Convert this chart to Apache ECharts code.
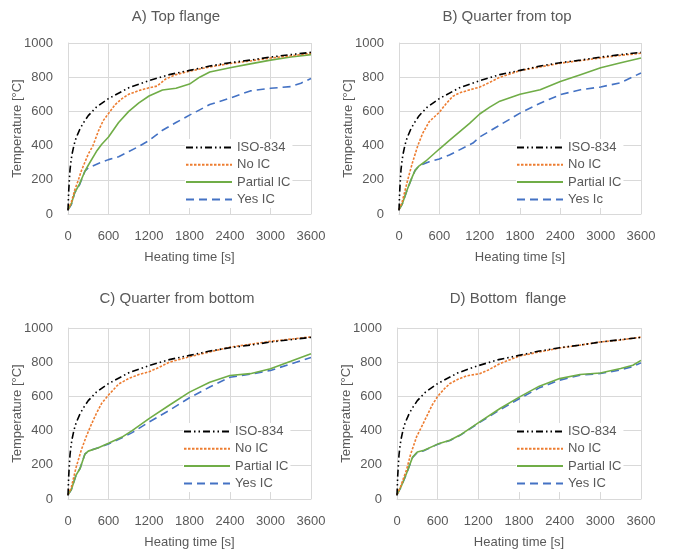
<!DOCTYPE html>
<html><head><meta charset="utf-8">
<script src="https://cdn.jsdelivr.net/npm/echarts@6/dist/echarts.min.js"></script>
<style>html,body{margin:0;padding:0;background:#fff}#c{width:675px;height:555px}</style>
</head><body><div id="c"></div>
<script>
var panelTitles = ['A) Top flange', 'B) Quarter from top', 'C) Quarter from bottom', 'D) Bottom  flange'];
var seriesNames = [
  ['ISO-834', 'No IC', 'Partial IC', 'Yes IC'],
  ['ISO-834', 'No IC', 'Partial IC', 'Yes Ic'],
  ['ISO-834', 'No IC', 'Partial IC', 'Yes IC'],
  ['ISO-834', 'No IC', 'Partial IC', 'Yes IC']
];
var xTicks = [0, 600, 1200, 1800, 2400, 3000, 3600];
var yTicks = [0, 200, 400, 600, 800, 1000];

var isoData = [[0,20],[10,130],[20,200],[30,260],[45,310],[60,350],[90,405],[120,445],[180,500],[240,540],[300,575],[420,625],[600,675],[900,738],[1200,780],[1500,815],[1800,840],[2100,865],[2400,885],[2700,900],[3000,918],[3300,932],[3600,945]];

var aNo = [[0,25],[50,70],[100,140],[150,195],[200,255],[300,350],[370,400],[450,485],[520,545],[600,588],[700,640],[800,675],[900,700],[1050,722],[1200,738],[1320,748],[1450,790],[1600,815],[1800,835],[2100,860],[2400,880],[2700,895],[3000,912],[3300,925],[3600,940]];
var aPartial = [[0,25],[50,60],[100,125],[170,175],[250,250],[300,285],[420,365],[500,408],[600,450],[750,535],[900,600],[1050,650],[1200,690],[1400,725],[1600,735],[1800,760],[1950,800],[2100,830],[2400,855],[2700,878],[3000,900],[3300,918],[3600,932]];
var aYes = [[0,25],[50,55],[100,125],[170,170],[250,250],[300,270],[450,295],[600,318],[750,335],[900,365],[1050,395],[1200,430],[1400,490],[1600,535],[1800,578],[2100,640],[2400,678],[2700,720],[3000,735],[3300,745],[3450,765],[3600,792]];

var bNo = [[0,25],[50,75],[130,200],[200,300],[280,400],[350,470],[450,540],[600,595],[700,645],[800,688],[900,708],[1050,726],[1200,742],[1350,770],[1500,800],[1800,838],[2100,860],[2400,882],[2700,897],[3000,913],[3300,928],[3600,940]];
var bPartial = [[0,25],[50,60],[120,140],[200,220],[240,255],[300,282],[400,310],[500,345],[600,380],[750,430],[900,480],[1050,530],[1200,585],[1350,625],[1500,660],[1650,680],[1800,700],[2100,727],[2400,775],[2700,815],[3000,855],[3300,885],[3600,912]];
var bYes = [[0,25],[50,60],[120,140],[200,220],[240,255],[300,282],[450,305],[600,322],[750,345],[900,375],[1100,415],[1200,450],[1500,520],[1800,590],[2100,648],[2400,698],[2700,727],[3000,743],[3300,768],[3600,825]];

var cNo = [[0,25],[50,70],[120,185],[200,290],[270,365],[350,440],[420,500],[500,560],[600,608],[750,672],[900,705],[1050,728],[1200,744],[1350,770],[1500,800],[1800,832],[2100,860],[2400,888],[2700,905],[3000,922],[3300,935],[3600,948]];
var cPartial = [[0,25],[50,55],[120,140],[180,180],[250,262],[300,280],[450,300],[600,326],[800,362],[950,400],[1200,470],[1500,548],[1800,625],[2100,683],[2400,722],[2700,733],[3000,762],[3300,805],[3600,850]];
var cYes = [[0,25],[50,55],[120,140],[180,180],[250,262],[300,280],[450,300],[600,322],[800,358],[950,388],[1200,450],[1500,518],[1800,592],[2100,655],[2400,712],[2700,730],[3000,752],[3300,790],[3600,827]];

var dNo = [[0,25],[50,70],[140,170],[200,260],[290,365],[360,420],[440,485],[520,550],[600,600],[700,645],[780,675],[900,700],[1025,720],[1220,733],[1350,755],[1520,792],[1800,835],[2100,860],[2400,883],[2700,900],[3000,918],[3300,930],[3600,947]];
var dPartial = [[0,25],[60,72],[140,150],[230,245],[300,275],[400,285],[600,321],[780,344],[930,374],[1220,451],[1520,529],[1810,597],[2100,660],[2400,704],[2700,728],[3000,737],[3300,763],[3480,782],[3600,811]];
var dYes = [[0,25],[60,70],[140,148],[230,243],[300,273],[400,283],[600,320],[780,342],[930,372],[1220,448],[1520,522],[1810,588],[2100,650],[2400,695],[2700,724],[3000,734],[3300,755],[3480,775],[3600,796]];

var panelData = [
  [isoData, aNo, aPartial, aYes],
  [isoData, bNo, bPartial, bYes],
  [isoData, cNo, cPartial, cYes],
  [isoData, dNo, dPartial, dYes]
];

var FONT = '"Liberation Sans", Arial, sans-serif';
var GREY = '#595959';
var grids = [
  {left: 68, top: 43, width: 243, height: 171},
  {left: 399, top: 43, width: 242, height: 171},
  {left: 68, top: 328, width: 243, height: 171},
  {left: 397, top: 328, width: 244, height: 171}
];
var titlePos = [[171, 4], [502, 4], [172, 286], [503, 286]];
var legendPos = [[185, 139], [516, 139], [183, 423], [516, 423]];
var lineStyles = [
  {color: '#000000', type: [7, 3, 1.5, 3, 1.5, 3]},
  {color: '#ED7D31', type: [2.5, 1.5]},
  {color: '#70AD47', type: 'solid'},
  {color: '#4472C4', type: [8, 5]}
];
function plain(v) { return String(v); }

var option = {
  animation: false,
  backgroundColor: '#fff',
  title: [], grid: [], xAxis: [], yAxis: [], legend: [], series: []
};
for (var p = 0; p < 4; p++) {
  option.title.push({
    text: panelTitles[p], left: titlePos[p][0], top: titlePos[p][1], textAlign: 'center',
    textStyle: {fontFamily: FONT, fontSize: 15, fontWeight: 'normal', color: GREY}
  });
  option.grid.push(grids[p]);
  option.xAxis.push({
    type: 'value', gridIndex: p, min: xTicks[0], max: xTicks[xTicks.length - 1], interval: 600,
    name: 'Heating time [s]', nameLocation: 'middle', nameGap: 37, nameMoveOverlap: false,
    nameTextStyle: {fontFamily: FONT, fontSize: 13, color: GREY},
    axisLine: {show: true, lineStyle: {color: '#d9d9d9'}},
    axisTick: {show: false},
    axisLabel: {fontFamily: FONT, fontSize: 13, color: GREY, margin: 16, formatter: plain},
    splitLine: {show: true, lineStyle: {color: '#d9d9d9', width: 1}}
  });
  option.yAxis.push({
    type: 'value', gridIndex: p, min: yTicks[0], max: yTicks[yTicks.length - 1], interval: 200,
    name: 'Temperature [°C]', nameLocation: 'middle', nameGap: 44, nameMoveOverlap: false,
    nameTextStyle: {fontFamily: FONT, fontSize: 13, color: GREY},
    axisLine: {show: true, lineStyle: {color: '#d9d9d9'}},
    axisTick: {show: false},
    axisLabel: {fontFamily: FONT, fontSize: 13, color: GREY, margin: 15, formatter: plain},
    splitLine: {show: true, lineStyle: {color: '#d9d9d9', width: 1}}
  });
  option.legend.push({
    orient: 'vertical', left: legendPos[p][0], top: legendPos[p][1],
    data: seriesNames[p], itemWidth: 46, itemHeight: 12, itemGap: 4.3,
    backgroundColor: '#fff', padding: [2, 2, 2, 0],
    itemStyle: {opacity: 0},
    textStyle: {fontFamily: FONT, fontSize: 13, color: GREY},
    selectedMode: false
  });
  for (var s = 0; s < 4; s++) {
    option.series.push({
      type: 'line', name: seriesNames[p][s], xAxisIndex: p, yAxisIndex: p,
      data: panelData[p][s], showSymbol: false, symbol: 'none', smooth: false,
      z: 5 - s,
      lineStyle: {color: lineStyles[s].color, type: lineStyles[s].type, width: 1.6},
      itemStyle: {color: lineStyles[s].color}
    });
  }
}
var chart = echarts.init(document.getElementById('c'), null, {renderer: 'canvas'});
chart.setOption(option);
</script></body></html>
